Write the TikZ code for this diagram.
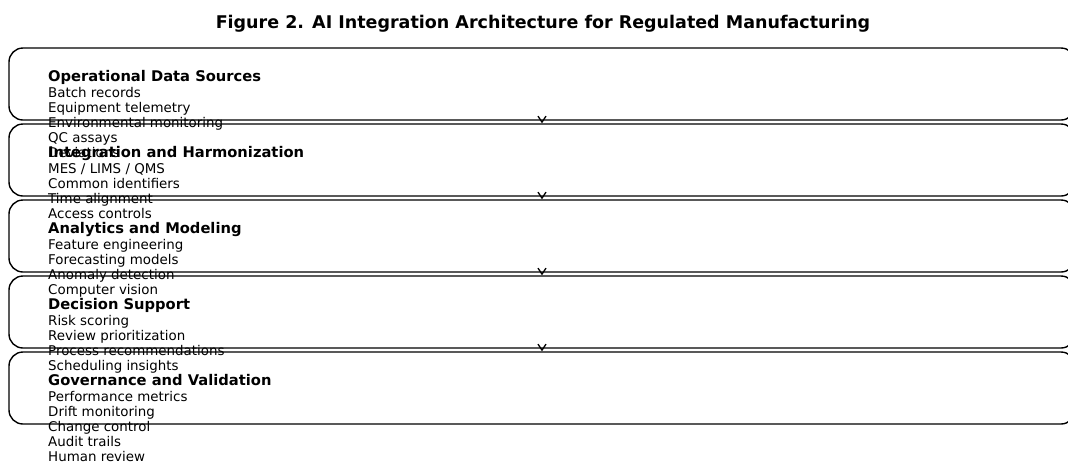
\documentclass[tikz,border=0pt]{standalone}
\usepackage{fontspec}
\setmainfont{DejaVu Sans}
\usetikzlibrary{arrows.meta}

\newcommand{\stagehead}[1]{{\fontsize{14.7}{15.2}\selectfont\bfseries #1}\\[0.8pt]}

\begin{document}
\begin{tikzpicture}[x=1pt, y=-1pt,
  stage/.style={draw, line width=1.4pt, rounded corners=14pt,
    minimum width=1066pt, minimum height=72pt, inner sep=0pt},
  items/.style={anchor=base west, align=left, inner sep=0pt,
    font=\fontsize{13.4}{15.2}\selectfont},
  flow/.style={-{Straight Barb[length=6pt,width=8pt]}, line width=1.3pt}]
  \useasboundingbox (0,0) rectangle (1068,464);
  \clip (0,0) rectangle (1068,464);
  \node[font=\fontsize{17.5}{20}\selectfont\bfseries] (title) at (543,23.5)
    {Figure 2. AI Integration Architecture for Regulated Manufacturing};
  % the five stages
  \node[stage] (src) at (542,84) {};
  \node[stage] (integ) at (542,160) {};
  \node[stage] (model) at (542,236) {};
  \node[stage] (decide) at (542,312) {};
  \node[stage] (govern) at (542,388) {};
  % stage texts, placed by the baseline of their last line
  \node[items] (srctext) at (48,157.8) {\stagehead{Operational Data Sources}
    Batch records\\ Equipment telemetry\\ Environmental monitoring\\
    QC assays\\ Deviations};
  \node[items] (integtext) at (48,218.6) {\stagehead{Integration and Harmonization}
    MES / LIMS / QMS\\ Common identifiers\\ Time alignment\\ Access controls};
  \node[items] (modeltext) at (48,294.6) {\stagehead{Analytics and Modeling}
    Feature engineering\\ Forecasting models\\ Anomaly detection\\ Computer vision};
  \node[items] (decidetext) at (48,370.6) {\stagehead{Decision Support}
    Risk scoring\\ Review prioritization\\ Process recommendations\\ Scheduling insights};
  \node[items] (governtext) at (48,461.8) {\stagehead{Governance and Validation}
    Performance metrics\\ Drift monitoring\\ Change control\\ Audit trails\\ Human review};
  % arrows between stages
  \draw[flow] (src.south) -- (integ.north);
  \draw[flow] (integ.south) -- (model.north);
  \draw[flow] (model.south) -- (decide.north);
  \draw[flow] (decide.south) -- (govern.north);
\end{tikzpicture}
\end{document}
